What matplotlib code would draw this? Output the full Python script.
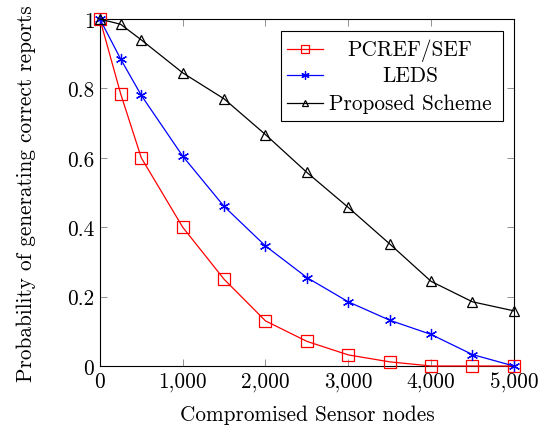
import matplotlib
matplotlib.use("Agg")
import matplotlib.pyplot as plt
from matplotlib.ticker import FuncFormatter
from matplotlib.patches import Rectangle
from matplotlib.lines import Line2D

plt.rcParams['font.family'] = ['cmr10', 'DejaVu Serif']
plt.rcParams['mathtext.fontset'] = 'cm'
plt.rcParams['axes.formatter.use_mathtext'] = True

x = [0, 250, 500, 1000, 1500, 2000, 2500, 3000, 3500, 4000, 4500, 5000]
pcref = [1.0, 0.785, 0.60, 0.40, 0.25, 0.13, 0.071, 0.032, 0.012, 0.0, 0.0, 0.0]
leds = [1.0, 0.885, 0.78, 0.605, 0.46, 0.346, 0.255, 0.185, 0.132, 0.091, 0.033, 0.0]
proposed = [1.0, 0.985, 0.94, 0.845, 0.77, 0.667, 0.558, 0.457, 0.352, 0.244, 0.185, 0.159]
labels = ['PCREF/SEF', 'LEDS', 'Proposed Scheme']
colors = ['red', 'blue', 'black']

FS = 15.3

fig = plt.figure(figsize=(5.49, 4.27), dpi=100)
ax = fig.add_axes([0.182, 0.1405, 0.754, 0.8125])

styles = [dict(marker='s', ms=8, mfc='none'),
          dict(marker=(6, 2, 0), ms=8),
          dict(marker='^', ms=7, mfc='none')]
for ys, c, st, lab in zip([pcref, leds, proposed], colors, styles, labels):
    ax.plot(x, ys, color=c, lw=0.9, mec=c, mew=0.9, label=lab, clip_on=False, zorder=3, **st)

ax.set_xlim(0, 5000)
ax.set_ylim(0, 1)
ax.set_xticks([0, 1000, 2000, 3000, 4000, 5000])
ax.set_yticks([0, 0.2, 0.4, 0.6, 0.8, 1.0])
ax.xaxis.set_major_formatter(FuncFormatter(lambda v, p: f"{int(v):,}"))
ax.yaxis.set_major_formatter(FuncFormatter(lambda v, p: "0" if v == 0 else ("1" if v == 1 else f"{v:.1f}")))
ax.tick_params(direction='in', top=True, right=True, length=5, width=0.6, labelsize=FS,
               color='#808080', labelcolor='black', pad=4)
for s in ax.spines.values():
    s.set_linewidth(0.8)

ax.set_xlabel('Compromised Sensor nodes', fontsize=FS, labelpad=9)
ax.set_ylabel('Probability of generating correct reports', fontsize=FS, labelpad=22)

# manual legend (pgfplots style: centered text)
lx0, lx1, ly0, ly1 = 0.437, 0.973, 0.706, 0.965
ax.add_patch(Rectangle((lx0, ly0), lx1 - lx0, ly1 - ly0, transform=ax.transAxes,
                       facecolor='white', edgecolor='black', lw=0.8, zorder=5, clip_on=False))
rows = [0.913, 0.838, 0.757]
hx0, hx1 = (287 - 100) / 414, (323 - 100) / 414
tx = (410 - 100) / 414
lstyles = [dict(marker='s', ms=6, mfc='none'),
           dict(marker=(6, 2, 0), ms=6),
           dict(marker='^', ms=5, mfc='none')]
for r, c, st, lab in zip(rows, colors, lstyles, labels):
    ax.add_line(Line2D([hx0, (hx0 + hx1) / 2, hx1], [r, r, r], transform=ax.transAxes,
                       color=c, lw=0.9, mec=c, mew=0.9, markevery=[1], zorder=6, clip_on=False, **st))
    ax.text(tx, r, lab, transform=ax.transAxes, ha='center', va='center', fontsize=FS, zorder=6)

fig.savefig('out.png', dpi=100)
